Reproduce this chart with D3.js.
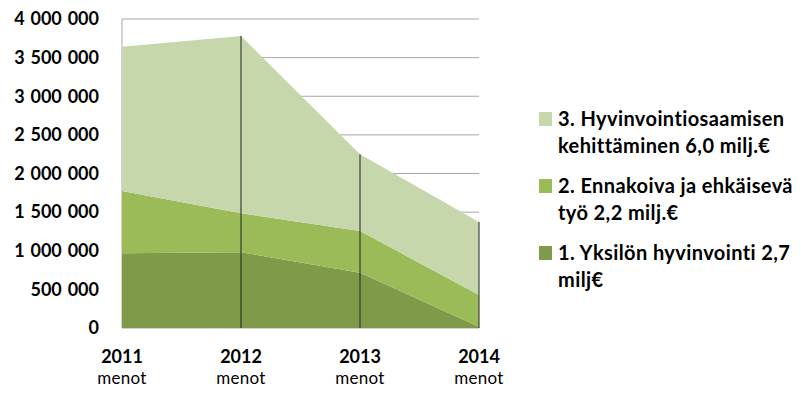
<!DOCTYPE html>
<html>
<head>
<meta charset="utf-8">
<script src="https://cdn.jsdelivr.net/npm/d3@7"></script>
<style>
  html, body { margin: 0; padding: 0; background: #fff; }
  svg { display: block; font-family: Lato, "Open Sans", sans-serif; }
</style>
</head>
<body>
<svg id="chart" width="801" height="394"></svg>
<script>
// Categories (years of expenditure) and the three spending lines, in euros
const categories = ["2011", "2012", "2013", "2014"];
const categorySubLabel = "menot";
const seriesKeys = ["s1", "s2", "s3"];
const series1 = [967000, 980000, 716000, 15000];   // 1. Yksilön hyvinvointi
const series2 = [806000, 505000, 540000, 412000];  // 2. Ennakoiva ja ehkäisevä työ
const series3 = [1868000, 2295000, 993000, 945000]; // 3. Hyvinvointiosaamisen kehittäminen
const yTicks = [0, 500000, 1000000, 1500000, 2000000, 2500000, 3000000, 3500000, 4000000];
const legendLines = {
  s3: ["3. Hyvinvointiosaamisen", "kehittäminen 6,0 milj.€"],
  s2: ["2. Ennakoiva ja ehkäisevä", "työ 2,2 milj.€"],
  s1: ["1. Yksilön hyvinvointi 2,7", "milj€"]
};
const colors = { s1: "#7f9a48", s2: "#9bbb59", s3: "#c6d7ab" };

const rows = categories.map((c, i) => ({ cat: c, s1: series1[i], s2: series2[i], s3: series3[i] }));
const stacked = d3.stack().keys(seriesKeys)(rows);

const svg = d3.select("#chart");
const x = d3.scalePoint().domain(categories).range([122, 479]);
const y = d3.scaleLinear().domain([0, 4000000]).range([328, 19]);

const fmt = v => d3.format(",")(v).replace(/,/g, " ");

// horizontal gridlines
svg.append("g").selectAll("line").data(yTicks).join("line")
  .attr("x1", 122).attr("x2", 479)
  .attr("y1", d => y(d)).attr("y2", d => y(d))
  .attr("stroke", "#a6a6a6").attr("stroke-width", 1);

// y axis line
svg.append("line").attr("x1", 122).attr("x2", 122).attr("y1", y(4000000)).attr("y2", y(0))
  .attr("stroke", "#a6a6a6");

// stacked areas
const area = d3.area()
  .x(d => x(d.data.cat))
  .y0(d => y(d[0]))
  .y1(d => y(d[1]));
svg.append("g").selectAll("path").data(stacked).join("path")
  .attr("d", area)
  .attr("fill", d => colors[d.key]);

// drop lines from the stack top to the base
svg.append("g").selectAll("line").data(rows.slice(1)).join("line")
  .attr("x1", d => x(d.cat)).attr("x2", d => x(d.cat))
  .attr("y1", d => y(d.s1 + d.s2 + d.s3)).attr("y2", y(0))
  .attr("stroke", "#222").attr("stroke-width", 1);

// y tick labels
svg.append("g").selectAll("text").data(yTicks).join("text")
  .attr("x", 99).attr("y", d => y(d)).attr("dy", "0.35em")
  .attr("text-anchor", "end")
  .attr("font-size", 18).attr("font-weight", 700).attr("fill", "#000")
  .style("word-spacing", "1.5px")
  .text(fmt);

// category labels
const xl = svg.append("g").selectAll("g").data(categories).join("g")
  .attr("transform", d => `translate(${x(d)},0)`);
xl.append("text").attr("y", 363).attr("text-anchor", "middle")
  .attr("font-size", 18).attr("font-weight", 700).attr("fill", "#000").text(d => d);
xl.append("text").attr("y", 384).attr("text-anchor", "middle")
  .attr("font-size", 17).attr("font-weight", 400).attr("fill", "#000")
  .style("letter-spacing", "0.3px").text(categorySubLabel);

// legend
const legendKeys = ["s3", "s2", "s1"];
const lg = svg.append("g").selectAll("g").data(legendKeys).join("g")
  .attr("transform", (d, i) => `translate(539,${126 + i * 67})`);
lg.append("rect").attr("x", 0).attr("y", -14).attr("width", 13).attr("height", 14)
  .attr("fill", d => colors[d]);
lg.each(function(k) {
  const g = d3.select(this);
  legendLines[k].forEach((t, j) => {
    g.append("text").attr("x", 19).attr("y", j * 27)
      .attr("font-size", 20).attr("font-weight", 700).attr("fill", "#000")
      .style("letter-spacing", "0.4px")
      .text(t);
  });
});
</script>
</body>
</html>
